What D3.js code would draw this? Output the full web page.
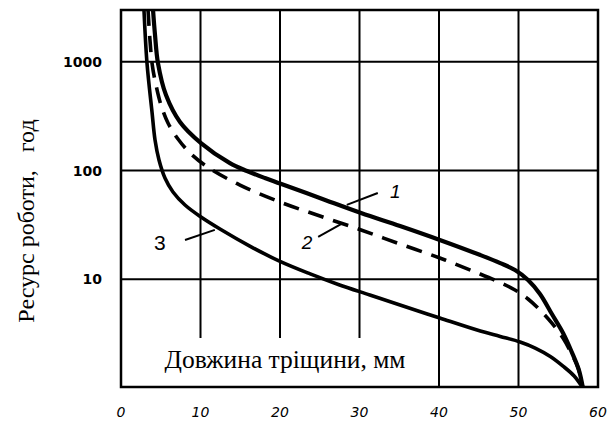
<!DOCTYPE html>
<html>
<head>
<meta charset="utf-8">
<script src="https://cdn.jsdelivr.net/npm/d3@7"></script>
<style>
  body { margin: 0; background: #fff; }
  svg { display: block; }
</style>
</head>
<body>
<svg id="chart" width="613" height="428"></svg>
<script>
// crack length (mm) vs remaining life (hours)
const xTicks = [0, 10, 20, 30, 40, 50, 60]
const yTicks = [10, 100, 1000]

const curve1 = [[4.03, 3000], [4.28, 1766], [4.65, 975], [5.66, 495], [7.42, 280], [10.06, 179],
  [13.7, 117], [15.85, 99.1], [18.1, 85.4], [20, 76.0], [25, 56], [30.2, 40.7], [35.1, 30.9], [40.1, 23.0],
  [45.2, 16.7], [47.7, 14.1], [49.56, 12.17], [51.2, 9.85], [52.7, 7.32], [54.2, 4.79], [55.6, 3.21],
  [56.7, 2.14], [57.6, 1.46], [58.1, 1]]
const curve2 = [[3.4, 3000], [3.9, 975], [4.4, 612], [5.03, 401], [5.91, 274], [7.17, 195], [8.81, 142],
  [11.07, 105.6], [14.97, 73.6], [20, 51.4], [25.03, 38.2], [30.2, 28.4], [35.1, 21.1], [40.1, 15.7],
  [44.5, 11.7], [47.7, 9.34], [49.56, 7.97], [51.2, 6.59], [52.7, 5.22], [54.2, 3.96], [55.6, 2.88],
  [56.7, 2.05], [57.5, 1.53], [58.1, 1]]
const curve3 = [[2.89, 3000], [3.27, 975], [3.9, 346], [4.28, 191], [4.78, 125], [5.53, 85.4], [6.54, 63.5],
  [8.05, 48.2], [10.06, 37.4], [12.45, 29.0], [16.2, 20.2], [20, 14.6], [23.8, 11.2], [27.5, 8.86],
  [31.3, 7.17], [35.1, 5.8], [40.1, 4.4], [45.2, 3.34], [47.7, 2.98], [50.2, 2.65], [52.1, 2.33],
  [54.0, 1.95], [55.6, 1.59], [57.0, 1.29], [58.1, 1]]

// curve numbers with their leader lines (data units)
const curveLabels = [
  { text: '1', at: [34.5, 63.6], from: [28.4, 48.3], to: [32.3, 62.2], hand: true },
  { text: '2', at: [23.4, 22.0], from: [24.8, 24.5], to: [27.9, 32.9], hand: true },
  { text: '3', at: [4.9, 22.0], from: [8.05, 23.0], to: [11.8, 28.5], hand: false }
]

const xTitle = 'Довжина тріщини, мм'
const yTitle = 'Ресурс роботи,   год'

const svg = d3.select('#chart')

const x = d3.scaleLinear().domain([0, 60]).range([121, 598])
const y = d3.scaleLog().domain([1, 3000]).range([388, 10])

const pLeft = x.range()[0], pRight = x.range()[1]
const pTop = y.range()[1], pBottom = y.range()[0] - 1

svg.append('defs').append('clipPath').attr('id', 'plot')
  .append('rect')
  .attr('x', pLeft).attr('y', pTop)
  .attr('width', pRight - pLeft).attr('height', pBottom - pTop)

// grid
svg.append('g')
  .selectAll('line')
  .data(xTicks.slice(1, -1))
  .join('line')
  .attr('x1', d => x(d)).attr('x2', d => x(d))
  .attr('y1', pTop).attr('y2', pBottom)
  .attr('stroke', '#000').attr('stroke-width', 2)

svg.append('g')
  .selectAll('line')
  .data(yTicks)
  .join('line')
  .attr('x1', pLeft).attr('x2', pRight)
  .attr('y1', d => y(d)).attr('y2', d => y(d))
  .attr('stroke', '#000').attr('stroke-width', 2)

// white patch behind the x title (hides the lower ends of the 10..30 grid lines)
svg.append('rect')
  .attr('x', pLeft).attr('y', 338)
  .attr('width', x(38) - pLeft).attr('height', pBottom - 338)
  .attr('fill', '#fff')

svg.append('text')
  .attr('x', 285).attr('y', 368)
  .attr('text-anchor', 'middle')
  .attr('font-family', '"Liberation Serif", serif')
  .attr('font-size', 25.5)
  .text(xTitle)

// frame
svg.append('rect')
  .attr('x', pLeft).attr('y', pTop)
  .attr('width', pRight - pLeft).attr('height', pBottom - pTop)
  .attr('fill', 'none').attr('stroke', '#000').attr('stroke-width', 2.5)

// curves
const line = d3.line()
  .x(d => x(d[0]))
  .y(d => y(d[1]))
  .curve(d3.curveCatmullRom.alpha(0.5))

const plot = svg.append('g').attr('clip-path', 'url(#plot)')

plot.append('path').datum(curve3)
  .attr('d', line).attr('fill', 'none')
  .attr('stroke', '#000').attr('stroke-width', 3.6).attr('stroke-linecap', 'round')

plot.append('path').datum(curve2)
  .attr('d', line).attr('fill', 'none')
  .attr('stroke', '#000').attr('stroke-width', 3.6)
  .attr('stroke-dasharray', '16,10')

plot.append('path').datum(curve1)
  .attr('d', line).attr('fill', 'none')
  .attr('stroke', '#000').attr('stroke-width', 4.2).attr('stroke-linecap', 'round')

// curve numbers
const lbl = svg.append('g')
lbl.selectAll('line')
  .data(curveLabels)
  .join('line')
  .attr('x1', d => x(d.from[0])).attr('y1', d => y(d.from[1]))
  .attr('x2', d => x(d.to[0])).attr('y2', d => y(d.to[1]))
  .attr('stroke', '#000').attr('stroke-width', 2)

lbl.selectAll('text')
  .data(curveLabels)
  .join('text')
  .attr('x', d => x(d.at[0])).attr('y', d => y(d.at[1]))
  .attr('text-anchor', 'middle')
  .attr('dominant-baseline', 'central')
  .attr('font-family', '"Liberation Sans", Arial, sans-serif')
  .attr('font-style', d => d.hand ? 'italic' : 'normal')
  .attr('font-size', d => d.hand ? 19 : 21)
  .text(d => d.text)

// tick labels
svg.append('g')
  .selectAll('text')
  .data(xTicks)
  .join('text')
  .attr('x', d => x(d)).attr('y', 417)
  .attr('text-anchor', 'middle')
  .attr('font-family', '"DejaVu Sans", sans-serif')
  .attr('font-style', 'italic')
  .attr('font-size', 14)
  .text(d => d)

svg.append('g')
  .selectAll('text')
  .data(yTicks)
  .join('text')
  .attr('x', 102).attr('y', d => y(d))
  .attr('text-anchor', 'end')
  .attr('dominant-baseline', 'central')
  .attr('font-family', '"DejaVu Sans", sans-serif')
  .attr('font-weight', 'bold')
  .attr('font-size', 14)
  .text(d3.format('d'))

svg.append('text')
  .attr('transform', 'translate(34,221) rotate(-90)')
  .attr('text-anchor', 'middle')
  .attr('font-family', '"Liberation Serif", serif')
  .attr('font-size', 24)
  .style('white-space', 'pre')
  .text(yTitle)
</script>
</body>
</html>
